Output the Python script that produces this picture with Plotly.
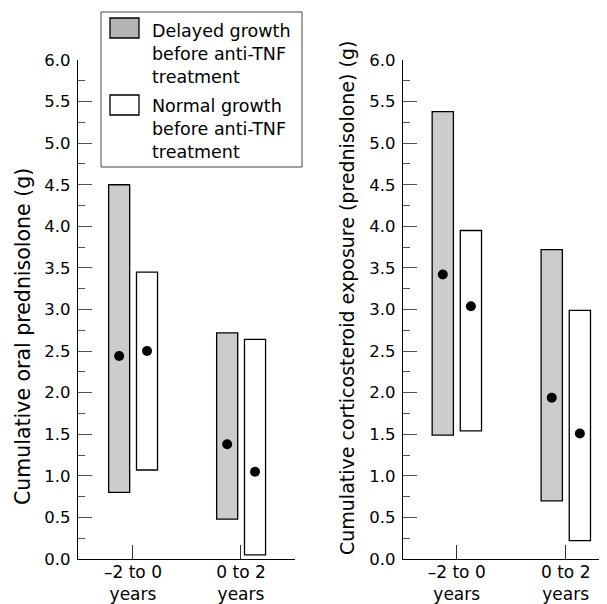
import plotly.graph_objects as go

# ---- data ----
periods = ["\u20132 to 0", "0 to 2"]
period_suffix = "years"

oral_delayed_low = [0.80, 0.48]
oral_delayed_high = [4.50, 2.72]
oral_delayed_median = [2.44, 1.38]

oral_normal_low = [1.07, 0.05]
oral_normal_high = [3.45, 2.64]
oral_normal_median = [2.50, 1.05]

total_delayed_low = [1.49, 0.70]
total_delayed_high = [5.38, 3.72]
total_delayed_median = [3.42, 1.94]

total_normal_low = [1.54, 0.22]
total_normal_high = [3.95, 2.99]
total_normal_median = [3.04, 1.51]

y_ticks = [i * 0.5 for i in range(13)]

legend_labels = ["Delayed growth<br>before anti-TNF<br>treatment",
                 "Normal growth<br>before anti-TNF<br>treatment"]
left_title = "Cumulative oral prednisolone (g)"
right_title = "Cumulative corticosteroid exposure (prednisolone) (g)"

# ---- styling ----
PAGE_OFF = 8          # default body margin of the html page
W, H = 607 - PAGE_OFF, 604 - PAGE_OFF
FONT = "DejaVu Sans"
GREY = "#cccccc"
BAR_W = 0.195
OFF_D = -0.128
OFF_N = 0.130
xs = list(range(len(periods)))


def px(x):
    return (x - PAGE_OFF) / W


def py(y):
    return 1 - (y - PAGE_OFF) / H


fig = go.Figure()


def add_panel(xa, ya, d_low, d_high, d_med, n_low, n_high, n_med):
    for low, high, med, fill, off in [
        (d_low, d_high, d_med, GREY, OFF_D),
        (n_low, n_high, n_med, "white", OFF_N),
    ]:
        fig.add_trace(go.Bar(
            x=xs, y=[h - l for h, l in zip(high, low)], base=low,
            offset=off - BAR_W / 2, width=BAR_W,
            marker=dict(color=fill, line=dict(color="black", width=1.3)),
            xaxis=xa, yaxis=ya, showlegend=False, hoverinfo="skip",
        ))
        fig.add_trace(go.Scatter(
            x=[x + off for x in xs], y=med, mode="markers",
            marker=dict(color="black", size=10),
            xaxis=xa, yaxis=ya, showlegend=False, hoverinfo="skip",
        ))


add_panel("x", "y", oral_delayed_low, oral_delayed_high, oral_delayed_median,
          oral_normal_low, oral_normal_high, oral_normal_median)
add_panel("x2", "y2", total_delayed_low, total_delayed_high, total_delayed_median,
          total_normal_low, total_normal_high, total_normal_median)

ticktext = [f"{p}<br>{period_suffix}" for p in periods]
ydom = [py(559), py(60)]

xcommon = dict(
    tickvals=xs, ticktext=ticktext, ticks="inside", ticklen=14, tickwidth=1.2,
    tickcolor="#333", showline=True, linecolor="black", linewidth=1.3,
    showgrid=False, zeroline=False, automargin=False, fixedrange=True,
    ticklabelstandoff=-3,
    tickfont=dict(family=FONT, size=17, color="black"),
)
ycommon = dict(
    range=[0, 6], tickvals=y_ticks, tickformat=".1f", ticks="inside", ticklen=14,
    tickwidth=1.3, tickcolor="#555", showline=True, linecolor="black",
    linewidth=1.3, showgrid=False, zeroline=False, automargin=False,
    ticklabelstandoff=3,
    minor=dict(dtick=0.25, ticks="inside", ticklen=7, tickcolor="#555", tickwidth=1.3),
    tickfont=dict(family=FONT, size=16.5, color="black"),
)

fig.update_layout(
    width=W, height=H, margin=dict(l=0, r=0, t=0, b=0),
    paper_bgcolor="white", plot_bgcolor="white", barmode="overlay",
    template="none",
    xaxis=dict(domain=[px(78), px(295)], range=[-0.509, 1.5], anchor="y", **xcommon),
    yaxis=dict(domain=ydom, anchor="x", **ycommon),
    xaxis2=dict(domain=[px(403), 1.0], range=[-0.493, 1.379], anchor="y2", **xcommon),
    yaxis2=dict(domain=ydom, anchor="x2", **ycommon),
)

# legend box
fig.add_shape(type="rect", xref="paper", yref="paper",
              x0=px(101), x1=px(302), y0=py(167), y1=py(12),
              line=dict(color="#444", width=1), fillcolor="white", layer="above")
for i, (fill, yc) in enumerate([(GREY, 28), ("white", 105)]):
    fig.add_shape(type="rect", xref="paper", yref="paper",
                  x0=px(110), x1=px(139), y0=py(yc + 10), y1=py(yc - 10),
                  line=dict(color="black", width=1.3),
                  fillcolor="#b4b4b4" if i == 0 else "white", layer="above")
for lab, ymid in zip(legend_labels, [54, 129]):
    fig.add_annotation(text=lab, xref="paper", yref="paper", x=px(150), y=py(ymid),
                       xanchor="left", yanchor="middle", align="left", showarrow=False,
                       font=dict(family=FONT, size=17.5, color="black"))

# y titles
fig.add_annotation(text=left_title, xref="paper", yref="paper", x=px(23), y=py(337),
                   textangle=-90, showarrow=False, xanchor="center", yanchor="middle",
                   font=dict(family=FONT, size=20.5, color="black"))
fig.add_annotation(text=right_title, xref="paper", yref="paper", x=px(347), y=py(298),
                   textangle=-90, showarrow=False, xanchor="center", yanchor="middle",
                   font=dict(family=FONT, size=19, color="black"))

fig.write_html("out.html")
